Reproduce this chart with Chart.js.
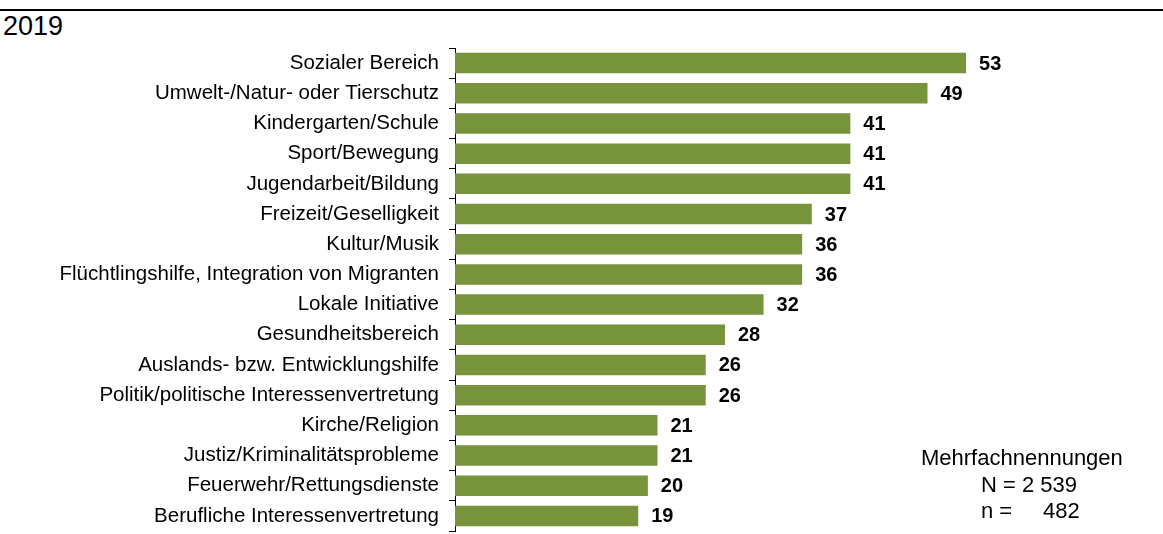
<!DOCTYPE html>
<html lang="de">
<head>
<meta charset="utf-8">
<title>Engagementbereiche 2019</title>
<script src="https://cdn.jsdelivr.net/npm/chart.js@4.4.1/dist/chart.umd.min.js"></script>
<style>
  body { margin: 0; background: #fff; font-family: "Liberation Sans", Arial, sans-serif; color: #000; }
  .wrap { position: relative; width: 1163px; height: 534px; overflow: hidden; }
  .rule { position: absolute; left: 0; right: 0; top: 9px; height: 2px; background: #000; }
  .year { position: absolute; left: 3px; top: 11px; font-size: 27px; line-height: 30px; }
  .note { position: absolute; font-size: 22px; line-height: 26px; white-space: pre; }
  canvas { position: absolute; left: 0; top: 0; }
</style>
</head>
<body>
<div class="wrap">
  <div class="rule"></div>
  <div class="year">2019</div>
  <canvas class="js-chart" width="1163" height="534"></canvas>
  <div class="note" style="left: 921px; top: 445px;">Mehrfachnennungen</div>
  <div class="note" style="left: 981px; top: 472px;">N = 2 539</div>
  <div class="note" style="left: 981px; top: 498px;">n =</div>
  <div class="note" style="left: 1043px; top: 498px;">482</div>
</div>
<script>
const ctx = document.querySelector('.js-chart').getContext('2d');

const categories = [
    'Sozialer Bereich',
    'Umwelt-/Natur- oder Tierschutz',
    'Kindergarten/Schule',
    'Sport/Bewegung',
    'Jugendarbeit/Bildung',
    'Freizeit/Geselligkeit',
    'Kultur/Musik',
    'Flüchtlingshilfe, Integration von Migranten',
    'Lokale Initiative',
    'Gesundheitsbereich',
    'Auslands- bzw. Entwicklungshilfe',
    'Politik/politische Interessenvertretung',
    'Kirche/Religion',
    'Justiz/Kriminalitätsprobleme',
    'Feuerwehr/Rettungsdienste',
    'Berufliche Interessenvertretung'
];
const shares = [53, 49, 41, 41, 41, 37, 36, 36, 32, 28, 26, 26, 21, 21, 20, 19];

const BAR_COLOR = '#77933C';
const FONT = '"Liberation Sans", Arial, sans-serif';

// bold numbers right of each bar
const valueLabels = {
    id: 'valueLabels',
    afterDatasetsDraw(chart) {
        const c = chart.ctx;
        const meta = chart.getDatasetMeta(0);
        c.save();
        c.font = 'bold 20px ' + FONT;
        c.fillStyle = '#000';
        c.textBaseline = 'middle';
        meta.data.forEach((bar, i) => c.fillText(shares[i], bar.x + 13, bar.y + 1));
        c.restore();
    }
};

function drawChart(labels, values) {
    new Chart(ctx, {
        type: 'bar',
        data: {
            labels: labels,
            datasets: [{
                data: values,
                backgroundColor: BAR_COLOR,
                borderWidth: 0,
                barPercentage: 0.68,
                categoryPercentage: 1
            }]
        },
        options: {
            indexAxis: 'y',
            responsive: false,
            animation: false,
            layout: { padding: { top: 48, right: 33, bottom: 3, left: 0 } },
            plugins: { legend: { display: false }, tooltip: { enabled: false } },
            scales: {
                x: { display: false, min: 0, max: 70 },
                y: {
                    grid: { drawOnChartArea: false, drawTicks: true, tickLength: 6, color: '#000', offset: true },
                    border: { display: true, color: '#000', width: 1 },
                    ticks: { color: '#000', font: { size: 20.5, family: FONT }, padding: 10, autoSkip: false },
                    afterFit(scale) {
                        scale.width = 455;
                        scale.paddingTop = 0; // labels sit inside their rows, no extra room needed
                        scale.paddingBottom = 0;
                    }
                }
            }
        },
        plugins: [valueLabels]
    });
}

drawChart(categories, shares);
</script>
</body>
</html>
